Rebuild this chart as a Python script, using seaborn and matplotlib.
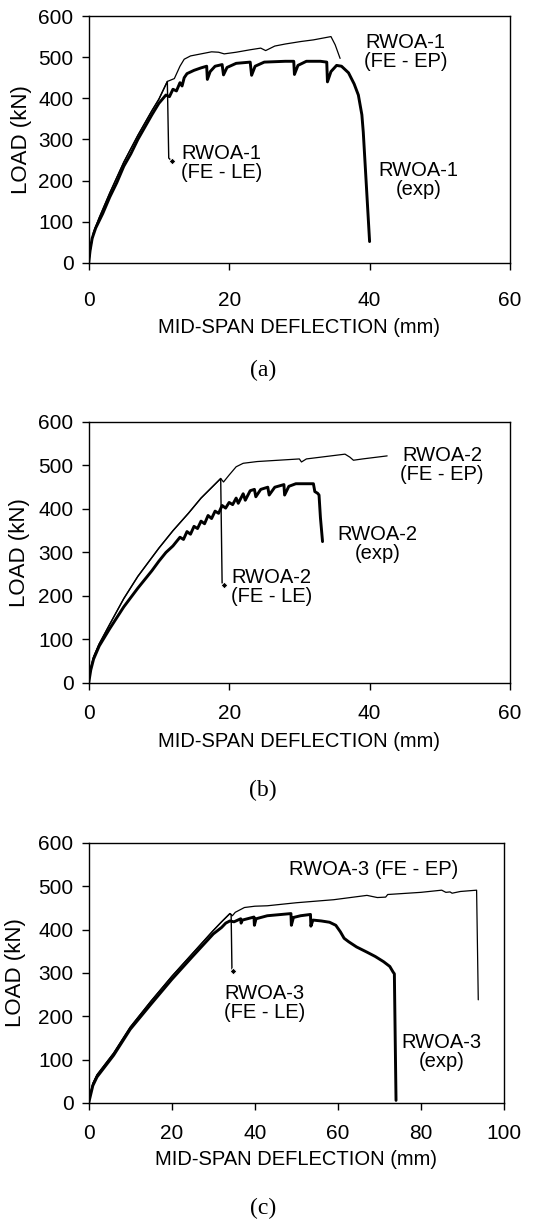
import numpy as np
import pandas as pd
import seaborn as sns
import matplotlib
matplotlib.use("Agg")
import matplotlib.pyplot as plt

# Panel (a): RWOA-1
a_le_x = [0, 0.3, 0.7, 1.5, 3, 5, 7, 9, 10, 11.2, 11.4, 11.8]
a_le_y = [0, 40, 75, 110, 170, 245, 310, 370, 398, 441, 255, 248]
a_ep_x = [0, 0.3, 0.7, 1.5, 3, 5, 7, 9, 10, 11.2, 12.2, 13, 13.6, 14.5, 16, 17.5,
          18.5, 19.3, 21, 23, 24.5, 25.2, 26.5, 28, 30.2, 32, 34.5, 35.1, 35.8]
a_ep_y = [0, 40, 75, 110, 170, 245, 310, 370, 398, 441, 448, 478, 495, 503, 508, 513,
          512, 508, 512, 518, 522, 516, 527, 532, 538, 542, 550, 530, 497]
a_ex_x = [0, 0.2, 0.5, 1, 2, 3, 4, 5, 6, 7, 8, 9, 10, 10.5, 11, 11.5, 12, 12.5, 13,
          13.3, 13.6, 14, 15, 16, 16.8, 16.9, 17.3, 18, 19, 19.2, 19.7, 21, 23, 23.2,
          23.7, 25, 28, 29.2, 29.3, 29.8, 31, 33, 33.9, 34, 34.5, 35.3, 36, 37, 37.8,
          38.4, 38.9, 39.1, 39.5, 40]
a_ex_y = [0, 30, 60, 85, 120, 160, 195, 235, 265, 300, 330, 360, 388, 398, 408, 404,
          422, 418, 438, 430, 450, 460, 468, 474, 478, 446, 465, 478, 482, 457, 475, 485,
          488, 456, 478, 488, 490, 490, 458, 480, 490, 490, 488, 440, 465, 480, 478, 462,
          435, 408, 360, 318, 200, 52]

# Panel (b): RWOA-2
b_le_x = [0, 0.3, 0.7, 1.5, 3, 5, 7, 10, 12, 14.2, 16, 18.8, 19.0, 19.2]
b_le_y = [0, 35, 60, 90, 135, 194, 245, 310, 350, 390, 425, 470, 230, 226]
b_ep_x = [0, 0.3, 0.7, 1.5, 3, 5, 7, 10, 12, 14.2, 16, 18.8, 19.2, 20, 21, 22, 24,
          27, 30, 30.3, 31, 33, 36.5, 37.2, 37.7, 39, 41, 42.5]
b_ep_y = [0, 35, 60, 90, 135, 194, 245, 310, 350, 390, 425, 470, 462, 478, 497, 505,
          509, 512, 515, 508, 515, 519, 526, 519, 512, 515, 519, 522]
b_ex_x = [0, 0.3, 0.7, 1.5, 3, 5, 7, 9, 10, 11, 12, 13, 13.5, 14, 14.5, 15, 15.5, 16,
          16.5, 17, 17.5, 18, 18.5, 19, 19.5, 20, 20.5, 21, 21.3, 22, 22.3, 23, 23.6,
          23.8, 24.5, 25.5, 25.7, 26.5, 27.8, 27.9, 28.5, 29.5, 32, 32.2, 32.6, 32.8,
          33, 33.3]
b_ex_y = [0, 30, 55, 85, 125, 175, 218, 258, 280, 300, 315, 335, 330, 348, 342, 360,
          355, 372, 366, 385, 378, 395, 390, 408, 402, 415, 410, 425, 413, 435, 420, 442,
          445, 428, 445, 450, 432, 450, 456, 432, 452, 458, 458, 440, 436, 432, 380, 325]

# Panel (c): RWOA-3
c_le_x = [0, 0.5, 1, 2, 4, 6, 10, 15, 20, 25, 30, 32, 34, 34.3, 34.5, 34.7]
c_le_y = [0, 25, 45, 65, 90, 115, 175, 235, 292, 345, 398, 418, 437, 435, 306, 305]
c_ep_x = [0, 0.5, 1, 2, 4, 6, 10, 15, 20, 25, 30, 32, 34, 34.6, 35.3, 37.5, 40, 43,
          50, 59, 67, 69.5, 71.5, 72, 80, 85, 86, 87, 87.5, 89.5, 93.4, 93.8]
c_ep_y = [0, 25, 45, 65, 90, 115, 175, 235, 292, 345, 398, 418, 437, 432, 440, 451,
          454, 455, 462, 469, 479, 474, 475, 481, 486, 491, 486, 487, 484, 488, 491, 238]
c_ex_x = [0, 0.5, 1, 2, 4, 6, 10, 15, 20, 25, 30, 32, 33, 34, 35, 36.6, 36.7, 37, 39.8,
          39.9, 40.3, 43, 48.7, 48.8, 49.3, 51, 53.4, 53.5, 54, 56, 58, 59.5, 60.6, 61.5,
          62.6, 64.5, 67, 69, 71, 72.5, 73.3, 73.6, 73.8, 74]
c_ex_y = [0, 20, 40, 60, 85, 110, 170, 228, 285, 338, 390, 405, 415, 420, 418, 425,
          415, 422, 429, 410, 425, 432, 437, 410, 428, 432, 435, 408, 422, 420, 417, 410,
          395, 380, 372, 360, 348, 338, 326, 315, 302, 298, 150, 6]

xmax = [60, 60, 100]
panel_tags = ["(a)", "(b)", "(c)"]

sns.set_style("white")
plt.rcParams["font.family"] = ["Liberation Sans", "DejaVu Sans"]
plt.rcParams["text.color"] = "black"
plt.rcParams["axes.labelcolor"] = "black"

fig = plt.figure(figsize=(5.44, 12.22), dpi=100)
boxes = [[0.163, 0.7848, 0.7746, 0.2021],
         [0.163, 0.4411, 0.7746, 0.2136],
         [0.163, 0.0974, 0.7635, 0.2128]]

panels = [(a_le_x, a_le_y, a_ep_x, a_ep_y, a_ex_x, a_ex_y),
          (b_le_x, b_le_y, b_ep_x, b_ep_y, b_ex_x, b_ex_y),
          (c_le_x, c_le_y, c_ep_x, c_ep_y, c_ex_x, c_ex_y)]

# annotation spots (x, y, text)
notes = [
    [(45.1, 513, "RWOA-1\n(FE - EP)"), (18.9, 243, "RWOA-1\n(FE - LE)"), (47.0, 202, "RWOA-1\n(exp)")],
    [(50.3, 501, "RWOA-2\n(FE - EP)"), (26.0, 221, "RWOA-2\n(FE - LE)"), (41.1, 320, "RWOA-2\n(exp)")],
    [(68.6, 538, "RWOA-3 (FE - EP)"), (42.3, 231, "RWOA-3\n(FE - LE)"), (85.0, 118, "RWOA-3\n(exp)")],
]
tick_pad = [15, 10, 10]
xlab_y = [-0.263, -0.226, -0.219]
ylab_x = [-0.16, -0.163, -0.175]
tag_y = [1 - 370 / 1222, 1 - 790 / 1222, 1 - 1208 / 1222]

for i, (lex, ley, epx, epy, exx, exy) in enumerate(panels):
    ax = fig.add_axes(boxes[i])
    sns.lineplot(x=exx, y=exy, ax=ax, color="black", lw=2.1, sort=False, estimator=None)
    sns.lineplot(x=epx, y=epy, ax=ax, color="black", lw=0.9, sort=False, estimator=None)
    sns.lineplot(x=lex, y=ley, ax=ax, color="black", lw=1.0, sort=False, estimator=None,
                 marker="D", markersize=3.5, markevery=[len(lex) - 1])
    ax.set_xlim(0, xmax[i])
    ax.set_ylim(0, 600)
    ax.set_xticks(np.arange(0, xmax[i] + 1, 20))
    ax.set_yticks(np.arange(0, 601, 100))
    for s in ax.spines.values():
        s.set_visible(True)
        s.set_color("black")
        s.set_linewidth(1.0)
    ax.tick_params(axis="both", direction="out", length=5, width=1, labelsize=15,
                   colors="black", left=True, bottom=True)
    ax.tick_params(axis="x", pad=tick_pad[i])
    ax.tick_params(axis="y", pad=6)
    ax.set_xlabel("MID-SPAN DEFLECTION (mm)", fontsize=14.5)
    ax.xaxis.set_label_coords(0.5, xlab_y[i])
    ax.xaxis.label.set_va("center")
    ax.set_ylabel("LOAD (kN)", fontsize=16)
    ax.yaxis.set_label_coords(ylab_x[i], 0.5)
    ax.yaxis.label.set_va("center")
    for (tx, ty, txt) in notes[i]:
        ax.text(tx, ty, txt, ha="center", va="center", multialignment="center",
                fontsize=14.5, linespacing=1.0, color="black")
    fig.text(0.484, tag_y[i], panel_tags[i], ha="center", va="center",
             fontsize=17, family=["Liberation Serif", "DejaVu Serif"])

fig.savefig("out.png", dpi=100)
